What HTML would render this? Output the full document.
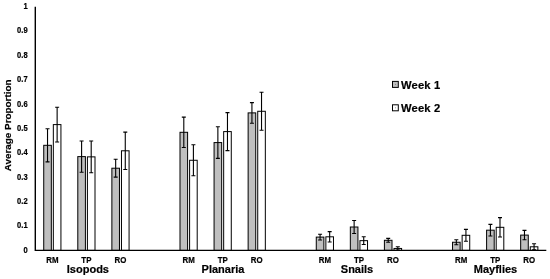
<!DOCTYPE html>
<html><head><meta charset="utf-8"><style>
html,body{margin:0;padding:0;background:#fff;}
body{width:550px;height:279px;overflow:hidden;}
svg{display:block;will-change:transform;}
text{font-family:"Liberation Sans",sans-serif;font-weight:bold;fill:#000;stroke:#000;stroke-width:0.2px;}
.yl{font-size:8.4px;}
.xl{font-size:8.4px;}
.gl{font-size:11px;}
.yt{font-size:9.9px;}
.lg{font-size:11.2px;letter-spacing:0.15px;}
</style></head><body>
<svg width="550" height="279" viewBox="0 0 550 279">
<rect width="550" height="279" fill="#fff"/>
<rect x="43.73" y="145.31" width="7.60" height="105.09" fill="#bfbfbf" stroke="#000" stroke-width="1"/>
<path d="M47.53 128.75V161.88M45.53 128.75H49.53M45.53 161.88H49.53" stroke="#000" stroke-width="1.1" fill="none"/>
<rect x="53.33" y="124.60" width="7.60" height="125.80" fill="#ffffff" stroke="#000" stroke-width="1"/>
<path d="M57.13 107.21V142.00M55.13 107.21H59.13M55.13 142.00H59.13" stroke="#000" stroke-width="1.1" fill="none"/>
<rect x="77.80" y="156.61" width="7.60" height="93.79" fill="#bfbfbf" stroke="#000" stroke-width="1"/>
<path d="M81.60 141.02V172.20M79.60 141.02H83.60M79.60 172.20H83.60" stroke="#000" stroke-width="1.1" fill="none"/>
<rect x="87.40" y="156.86" width="7.60" height="93.54" fill="#ffffff" stroke="#000" stroke-width="1"/>
<path d="M91.20 141.02V172.69M89.20 141.02H93.20M89.20 172.69H93.20" stroke="#000" stroke-width="1.1" fill="none"/>
<rect x="111.87" y="168.21" width="7.60" height="82.19" fill="#bfbfbf" stroke="#000" stroke-width="1"/>
<path d="M115.67 159.32V177.10M113.67 159.32H117.67M113.67 177.10H117.67" stroke="#000" stroke-width="1.1" fill="none"/>
<rect x="121.47" y="150.79" width="7.60" height="99.61" fill="#ffffff" stroke="#000" stroke-width="1"/>
<path d="M125.27 132.16V169.43M123.27 132.16H127.27M123.27 169.43H127.27" stroke="#000" stroke-width="1.1" fill="none"/>
<rect x="180.00" y="132.30" width="7.60" height="118.10" fill="#bfbfbf" stroke="#000" stroke-width="1"/>
<path d="M183.80 117.15V147.45M181.80 117.15H185.80M181.80 147.45H185.80" stroke="#000" stroke-width="1.1" fill="none"/>
<rect x="189.60" y="160.27" width="7.60" height="90.13" fill="#ffffff" stroke="#000" stroke-width="1"/>
<path d="M193.40 144.82V175.71M191.40 144.82H195.40M191.40 175.71H195.40" stroke="#000" stroke-width="1.1" fill="none"/>
<rect x="214.07" y="142.58" width="7.60" height="107.82" fill="#bfbfbf" stroke="#000" stroke-width="1"/>
<path d="M217.87 126.77V158.39M215.87 126.77H219.87M215.87 158.39H219.87" stroke="#000" stroke-width="1.1" fill="none"/>
<rect x="223.67" y="131.60" width="7.60" height="118.80" fill="#ffffff" stroke="#000" stroke-width="1"/>
<path d="M227.47 112.60V150.60M225.47 112.60H229.47M225.47 150.60H229.47" stroke="#000" stroke-width="1.1" fill="none"/>
<rect x="248.13" y="112.89" width="7.60" height="137.51" fill="#bfbfbf" stroke="#000" stroke-width="1"/>
<path d="M251.93 102.58V123.19M249.93 102.58H253.93M249.93 123.19H253.93" stroke="#000" stroke-width="1.1" fill="none"/>
<rect x="257.73" y="111.28" width="7.60" height="139.12" fill="#ffffff" stroke="#000" stroke-width="1"/>
<path d="M261.53 92.28V130.28M259.53 92.28H263.53M259.53 130.28H263.53" stroke="#000" stroke-width="1.1" fill="none"/>
<rect x="316.27" y="237.10" width="7.60" height="13.30" fill="#bfbfbf" stroke="#000" stroke-width="1"/>
<path d="M320.07 234.25V239.95M318.07 234.25H322.07M318.07 239.95H322.07" stroke="#000" stroke-width="1.1" fill="none"/>
<rect x="325.87" y="236.81" width="7.60" height="13.59" fill="#ffffff" stroke="#000" stroke-width="1"/>
<path d="M329.67 231.67V241.95M327.67 231.67H331.67M327.67 241.95H331.67" stroke="#000" stroke-width="1.1" fill="none"/>
<rect x="350.33" y="227.01" width="7.60" height="23.39" fill="#bfbfbf" stroke="#000" stroke-width="1"/>
<path d="M354.13 220.56V233.47M352.13 220.56H356.13M352.13 233.47H356.13" stroke="#000" stroke-width="1.1" fill="none"/>
<rect x="359.93" y="240.66" width="7.60" height="9.74" fill="#ffffff" stroke="#000" stroke-width="1"/>
<path d="M363.73 236.76V244.55M361.73 236.76H365.73M361.73 244.55H365.73" stroke="#000" stroke-width="1.1" fill="none"/>
<rect x="384.40" y="240.29" width="7.60" height="10.11" fill="#bfbfbf" stroke="#000" stroke-width="1"/>
<path d="M388.20 238.39V242.19M386.20 238.39H390.20M386.20 242.19H390.20" stroke="#000" stroke-width="1.1" fill="none"/>
<rect x="394.00" y="248.45" width="7.60" height="1.95" fill="#ffffff" stroke="#000" stroke-width="1"/>
<path d="M397.80 246.75V250.16M395.80 246.75H399.80M395.80 250.16H399.80" stroke="#000" stroke-width="1.1" fill="none"/>
<rect x="452.53" y="242.24" width="7.60" height="8.16" fill="#bfbfbf" stroke="#000" stroke-width="1"/>
<path d="M456.33 239.80V244.68M454.33 239.80H458.33M454.33 244.68H458.33" stroke="#000" stroke-width="1.1" fill="none"/>
<rect x="462.13" y="235.30" width="7.60" height="15.10" fill="#ffffff" stroke="#000" stroke-width="1"/>
<path d="M465.93 229.40V241.19M463.93 229.40H467.93M463.93 241.19H467.93" stroke="#000" stroke-width="1.1" fill="none"/>
<rect x="486.60" y="230.18" width="7.60" height="20.22" fill="#bfbfbf" stroke="#000" stroke-width="1"/>
<path d="M490.40 224.33V236.03M488.40 224.33H492.40M488.40 236.03H492.40" stroke="#000" stroke-width="1.1" fill="none"/>
<rect x="496.20" y="227.31" width="7.60" height="23.09" fill="#ffffff" stroke="#000" stroke-width="1"/>
<path d="M500.00 217.61V237.00M498.00 217.61H502.00M498.00 237.00H502.00" stroke="#000" stroke-width="1.1" fill="none"/>
<rect x="520.67" y="235.10" width="7.60" height="15.30" fill="#bfbfbf" stroke="#000" stroke-width="1"/>
<path d="M524.47 230.40V239.80M522.47 230.40H526.47M522.47 239.80H526.47" stroke="#000" stroke-width="1.1" fill="none"/>
<rect x="530.27" y="246.79" width="7.60" height="3.61" fill="#ffffff" stroke="#000" stroke-width="1"/>
<path d="M534.07 243.70V249.89M532.07 243.70H536.07M532.07 249.89H536.07" stroke="#000" stroke-width="1.1" fill="none"/>
<path d="M35.30 6.80V250.40H546.30" stroke="#000" stroke-width="1.4" fill="none"/>
<text transform="translate(27.6,252.70) scale(0.9,1)" text-anchor="end" class="yl">0</text>
<text transform="translate(27.6,228.34) scale(0.9,1)" text-anchor="end" class="yl">0.1</text>
<text transform="translate(27.6,203.98) scale(0.9,1)" text-anchor="end" class="yl">0.2</text>
<text transform="translate(27.6,179.62) scale(0.9,1)" text-anchor="end" class="yl">0.3</text>
<text transform="translate(27.6,155.26) scale(0.9,1)" text-anchor="end" class="yl">0.4</text>
<text transform="translate(27.6,130.90) scale(0.9,1)" text-anchor="end" class="yl">0.5</text>
<text transform="translate(27.6,106.54) scale(0.9,1)" text-anchor="end" class="yl">0.6</text>
<text transform="translate(27.6,82.18) scale(0.9,1)" text-anchor="end" class="yl">0.7</text>
<text transform="translate(27.6,57.82) scale(0.9,1)" text-anchor="end" class="yl">0.8</text>
<text transform="translate(27.6,33.46) scale(0.9,1)" text-anchor="end" class="yl">0.9</text>
<text transform="translate(27.6,9.10) scale(0.9,1)" text-anchor="end" class="yl">1</text>
<text transform="translate(52.33,262.8) scale(0.94,1)" text-anchor="middle" class="xl">RM</text>
<text transform="translate(86.40,262.8) scale(0.94,1)" text-anchor="middle" class="xl">TP</text>
<text transform="translate(120.47,262.8) scale(0.94,1)" text-anchor="middle" class="xl">RO</text>
<text x="87.90" y="272.8" text-anchor="middle" class="gl">Isopods</text>
<text transform="translate(188.60,262.8) scale(0.94,1)" text-anchor="middle" class="xl">RM</text>
<text transform="translate(222.67,262.8) scale(0.94,1)" text-anchor="middle" class="xl">TP</text>
<text transform="translate(256.73,262.8) scale(0.94,1)" text-anchor="middle" class="xl">RO</text>
<text x="222.97" y="272.8" text-anchor="middle" class="gl">Planaria</text>
<text transform="translate(324.87,262.8) scale(0.94,1)" text-anchor="middle" class="xl">RM</text>
<text transform="translate(358.93,262.8) scale(0.94,1)" text-anchor="middle" class="xl">TP</text>
<text transform="translate(393.00,262.8) scale(0.94,1)" text-anchor="middle" class="xl">RO</text>
<text x="357.03" y="272.8" text-anchor="middle" class="gl">Snails</text>
<text transform="translate(461.13,262.8) scale(0.94,1)" text-anchor="middle" class="xl">RM</text>
<text transform="translate(495.20,262.8) scale(0.94,1)" text-anchor="middle" class="xl">TP</text>
<text transform="translate(529.27,262.8) scale(0.94,1)" text-anchor="middle" class="xl">RO</text>
<text x="495.50" y="272.8" text-anchor="middle" class="gl">Mayflies</text>
<text transform="translate(10.8,125.4) rotate(-90)" text-anchor="middle" class="yt">Average Proportion</text>
<rect x="392.5" y="81.40" width="5.8" height="6" fill="#bfbfbf" stroke="#000" stroke-width="1"/>
<rect x="395.0" y="83.90" width="1" height="1" fill="#000" opacity="0.35"/>
<text x="401.0" y="88.60" class="lg">Week 1</text>
<rect x="392.5" y="104.80" width="5.8" height="6" fill="#ffffff" stroke="#000" stroke-width="1"/>
<rect x="395.0" y="107.30" width="1" height="1" fill="#000" opacity="0.35"/>
<text x="401.0" y="112.00" class="lg">Week 2</text>
</svg>
</body></html>
